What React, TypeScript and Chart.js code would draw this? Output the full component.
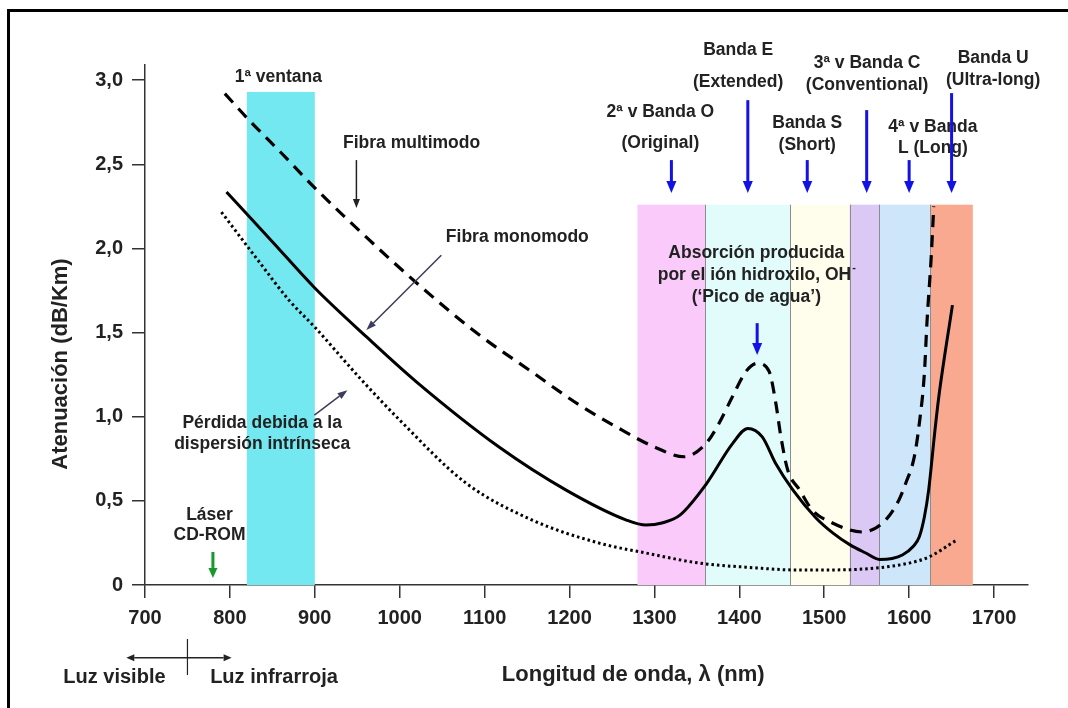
import React, { useEffect, useRef } from "react";
import { Chart, registerables } from "chart.js";

Chart.register(...registerables);

// ---------- data ----------
const xTickValues = [700, 800, 900, 1000, 1100, 1200, 1300, 1400, 1500, 1600, 1700];
const xTickLabels = ["700", "800", "900", "1000", "1100", "1200", "1300", "1400", "1500", "1600", "1700"];
const yTickValues = [0, 0.5, 1, 1.5, 2, 2.5, 3];
const yTickLabels = ["0", "0,5", "1,0", "1,5", "2,0", "2,5", "3,0"];

// Fibra multimodo (dashed)
const multimodeNm = [794, 823, 860, 900, 960, 1021, 1090, 1156, 1210, 1262, 1300, 1335, 1361, 1376, 1392, 1408, 1421, 1435, 1443, 1449, 1457, 1471, 1486, 1509, 1545, 1561, 1573, 1588, 1596, 1606, 1612, 1618, 1621, 1626, 1629];
const multimodeAtt = [2.92, 2.76, 2.57, 2.36, 2.07, 1.79, 1.5, 1.265, 1.075, 0.92, 0.82, 0.762, 0.842, 0.96, 1.12, 1.27, 1.317, 1.27, 1.08, 0.88, 0.683, 0.565, 0.445, 0.37, 0.315, 0.34, 0.39, 0.505, 0.605, 0.76, 0.96, 1.26, 1.56, 1.95, 2.25];

// Fibra monomodo (solid)
const monomodeNm = [796, 850, 900, 961, 1020, 1117, 1196, 1267, 1290, 1310, 1330, 1361, 1392, 1410, 1427, 1443, 1463, 1490, 1510, 1530, 1549, 1565, 1580, 1592, 1605, 1612, 1618, 1623, 1630, 1635, 1651];
const monomodeAtt = [2.335, 2.04, 1.765, 1.474, 1.206, 0.82, 0.564, 0.386, 0.356, 0.37, 0.415, 0.6, 0.84, 0.93, 0.88, 0.72, 0.565, 0.4, 0.31, 0.24, 0.19, 0.152, 0.158, 0.178, 0.23, 0.287, 0.406, 0.564, 0.9, 1.12, 1.663];

// Pérdida por dispersión intrínseca (dotted)
const scatteringNm = [790, 830, 870, 900, 953, 1000, 1078, 1156, 1235, 1290, 1353, 1410, 1470, 1520, 1561, 1600, 1623, 1656];
const scatteringAtt = [2.216, 1.95, 1.69, 1.532, 1.23, 0.98, 0.606, 0.386, 0.249, 0.19, 0.13, 0.105, 0.089, 0.09, 0.101, 0.13, 0.166, 0.267];

// Bands
const bandStartNm = [1280, 1360, 1460, 1530, 1565, 1625];
const bandEndNm = [1360, 1460, 1530, 1565, 1625, 1675];
const bandTopAtt = 2.26;
const firstWindowNm = [820, 900];
const firstWindowTopAtt = 2.93;

// ---------- styles ----------
const bandColors = ["#FACBFA", "#E2FBFB", "#FFFDEC", "#DCC8F5", "#CDE6FA", "#F9A98F"];
const firstWindowColor = "#74E8F0";
const FONT = '"Liberation Sans", Arial, Helvetica, sans-serif';
const TEXT = "#222";
const BLUE = "#1212E6";

// annotations in data coordinates (nm, dB/Km)
const textNotes: { t: string; x: number; y: number; s?: number }[] = [
  { t: "1ª ventana", x: 857, y: 3.02 },
  { t: "Fibra multimodo", x: 1014, y: 2.626 },
  { t: "Fibra monomodo", x: 1138.5, y: 2.067 },
  { t: "Pérdida debida a la", x: 838, y: 0.962 },
  { t: "dispersión intrínseca", x: 838, y: 0.838 },
  { t: "Láser", x: 776, y: 0.416 },
  { t: "CD-ROM", x: 776, y: 0.297 },
  { t: "2ª v Banda O", x: 1307, y: 2.81 },
  { t: "(Original)", x: 1307, y: 2.626 },
  { t: "Banda E", x: 1398.6, y: 3.178 },
  { t: "(Extended)", x: 1398.6, y: 2.988 },
  { t: "Banda S", x: 1480, y: 2.745 },
  { t: "(Short)", x: 1480, y: 2.614 },
  { t: "3ª v Banda C", x: 1550.5, y: 3.101 },
  { t: "(Conventional)", x: 1550.5, y: 2.97 },
  { t: "4ª v Banda", x: 1628, y: 2.721 },
  { t: "L (Long)", x: 1628, y: 2.596 },
  { t: "Banda U", x: 1699, y: 3.131 },
  { t: "(Ultra-long)", x: 1699, y: 3.0 },
  { t: "Absorción producida", x: 1420, y: 1.972 },
  { t: "(‘Pico de agua’)", x: 1420, y: 1.711 },
  { t: "Luz visible", x: 664, y: -0.547, s: 20 },
  { t: "Luz infrarroja", x: 852, y: -0.547, s: 20 },
];

const blueArrows = [
  { x: 1320, y1: 2.525, y2: 2.329 },
  { x: 1410, y1: 2.881, y2: 2.329 },
  { x: 1480, y1: 2.525, y2: 2.329 },
  { x: 1550, y1: 2.822, y2: 2.329 },
  { x: 1600, y1: 2.525, y2: 2.329 },
  { x: 1650, y1: 2.923, y2: 2.329 },
  { x: 1421, y1: 1.556, y2: 1.366 },
];

function toPoints(xs: number[], ys: number[]) {
  return xs.map((x, i) => ({ x, y: ys[i] }));
}

function arrow(ctx: CanvasRenderingContext2D, x1: number, y1: number, x2: number, y2: number, color: string, w: number, hl: number, hw: number) {
  const ang = Math.atan2(y2 - y1, x2 - x1);
  const bx = x2 - Math.cos(ang) * hl;
  const by = y2 - Math.sin(ang) * hl;
  ctx.save();
  ctx.strokeStyle = color;
  ctx.fillStyle = color;
  ctx.lineWidth = w;
  ctx.setLineDash([]);
  ctx.beginPath();
  ctx.moveTo(x1, y1);
  ctx.lineTo(bx, by);
  ctx.stroke();
  ctx.beginPath();
  ctx.moveTo(x2, y2);
  ctx.lineTo(bx + Math.sin(ang) * hw / 2, by - Math.cos(ang) * hw / 2);
  ctx.lineTo(bx - Math.sin(ang) * hw / 2, by + Math.cos(ang) * hw / 2);
  ctx.closePath();
  ctx.fill();
  ctx.restore();
}

const overlayPlugin = {
  id: "overlay",
  beforeDraw(chart: any) {
    const ctx = chart.ctx;
    ctx.save();
    ctx.fillStyle = "#fff";
    ctx.fillRect(0, 0, chart.width, chart.height);
    ctx.restore();
  },
  beforeDatasetsDraw(chart: any) {
    const ctx = chart.ctx as CanvasRenderingContext2D;
    const xs = chart.scales.x;
    const ys = chart.scales.y;
    const y0 = ys.getPixelForValue(0);
    ctx.save();
    {
      const a = xs.getPixelForValue(firstWindowNm[0]);
      const b = xs.getPixelForValue(firstWindowNm[1]);
      const t = ys.getPixelForValue(firstWindowTopAtt);
      ctx.fillStyle = firstWindowColor;
      ctx.fillRect(a, t, b - a, y0 - t);
    }
    const top = ys.getPixelForValue(bandTopAtt);
    bandStartNm.forEach((s, i) => {
      const a = xs.getPixelForValue(s);
      const b = xs.getPixelForValue(bandEndNm[i]);
      ctx.fillStyle = bandColors[i];
      ctx.fillRect(a, top, b - a, y0 - top);
    });
    ctx.strokeStyle = "#8c8c8c";
    ctx.lineWidth = 1;
    bandStartNm.slice(1).forEach((s) => {
      const a = Math.round(xs.getPixelForValue(s)) + 0.5;
      ctx.beginPath();
      ctx.moveTo(a, top);
      ctx.lineTo(a, y0);
      ctx.stroke();
    });
    ctx.restore();
  },
  afterDraw(chart: any) {
    const ctx = chart.ctx as CanvasRenderingContext2D;
    const xs = chart.scales.x;
    const ys = chart.scales.y;
    const px = (v: number) => xs.getPixelForValue(v);
    const py = (v: number) => ys.getPixelForValue(v);
    ctx.save();
    // frame
    ctx.strokeStyle = "#000";
    ctx.lineWidth = 3;
    ctx.beginPath();
    ctx.moveTo(8.5, chart.height + 2);
    ctx.lineTo(8.5, 10.5);
    ctx.lineTo(chart.width + 2, 10.5);
    ctx.stroke();

    ctx.fillStyle = TEXT;
    ctx.textAlign = "center";
    ctx.textBaseline = "middle";
    textNotes.forEach((n) => {
      ctx.font = `bold ${n.s ?? 17.5}px ${FONT}`;
      ctx.fillText(n.t, px(n.x), py(n.y));
    });
    // OH line with superscript minus
    {
      ctx.font = `bold 17.5px ${FONT}`;
      const main = "por el ión hidroxilo, OH";
      const w = ctx.measureText(main).width;
      ctx.font = `bold 11px ${FONT}`;
      const sw = ctx.measureText("-").width;
      const start = px(1420) - (w + sw) / 2;
      const cy = py(1.842);
      ctx.textAlign = "left";
      ctx.font = `bold 17.5px ${FONT}`;
      ctx.fillText(main, start, cy);
      ctx.font = `bold 11px ${FONT}`;
      ctx.fillText("-", start + w + 1, cy - 7);
      ctx.textAlign = "center";
    }
    // titles
    ctx.font = `bold 22px ${FONT}`;
    ctx.fillText("Longitud de onda, λ (nm)", px(1275), py(-0.535));
    ctx.save();
    ctx.translate(px(600.5), py(1.313));
    ctx.rotate(-Math.PI / 2);
    ctx.fillText("Atenuación (dB/Km)", 0, 0);
    ctx.restore();

    // thin arrows
    arrow(ctx, px(949), py(2.525), px(949), py(2.24), "#222", 1.5, 9, 7);
    arrow(ctx, px(1049), py(1.96), px(960.7), py(1.515), "#3c3c5c", 1.5, 10, 7);
    arrow(ctx, px(899.5), py(1.01), px(938.4), py(1.158), "#3c3c5c", 1.5, 10, 7);
    // green laser arrow
    arrow(ctx, px(780), py(0.196), px(780), py(0.042), "#139a2a", 3, 10, 9);
    // blue arrows
    blueArrows.forEach((a) => arrow(ctx, px(a.x), py(a.y1), px(a.x), py(a.y2), BLUE, 3, 12, 10));
    // visible / infrared marker
    ctx.strokeStyle = "#222";
    ctx.lineWidth = 1.2;
    ctx.beginPath();
    ctx.moveTo(px(750), py(-0.321));
    ctx.lineTo(px(750), py(-0.535));
    ctx.stroke();
    arrow(ctx, px(750), py(-0.432), px(678), py(-0.432), "#222", 1.5, 8, 7);
    arrow(ctx, px(750), py(-0.432), px(802), py(-0.432), "#222", 1.5, 8, 7);
    ctx.restore();
  },
};

export default function App() {
  const ref = useRef<HTMLCanvasElement | null>(null);
  useEffect(() => {
    if (!ref.current) return;
    const chart = new Chart(ref.current, {
      type: "scatter",
      data: {
        datasets: [
          {
            label: "Fibra multimodo",
            data: toPoints(multimodeNm, multimodeAtt),
            showLine: true,
            borderColor: "#000",
            borderWidth: 3.2,
            borderDash: [12, 8],
            pointRadius: 0,
            cubicInterpolationMode: "monotone",
          },
          {
            label: "Fibra monomodo",
            data: toPoints(monomodeNm, monomodeAtt),
            showLine: true,
            borderColor: "#000",
            borderWidth: 3,
            pointRadius: 0,
            cubicInterpolationMode: "monotone",
          },
          {
            label: "Pérdida debida a la dispersión intrínseca",
            data: toPoints(scatteringNm, scatteringAtt),
            showLine: true,
            borderColor: "#000",
            borderWidth: 3,
            borderDash: [2.5, 3],
            pointRadius: 0,
            cubicInterpolationMode: "monotone",
          },
        ],
      },
      options: {
        responsive: false,
        animation: false,
        devicePixelRatio: 1,
        layout: { padding: { left: 0, top: 65, right: 40, bottom: 0 } },
        plugins: { legend: { display: false }, tooltip: { enabled: false } },
        scales: {
          x: {
            type: "linear",
            min: 700,
            max: 1740,
            afterBuildTicks: (scale: any) => {
              scale.ticks = xTickValues.map((v) => ({ value: v }));
            },
            afterFit: (scale: any) => {
              scale.height = 123;
            },
            grid: { drawOnChartArea: false, drawTicks: true, tickLength: 13, color: "#333", lineWidth: 1.5 },
            border: { display: true, color: "#333", width: 1.5 },
            ticks: {
              color: TEXT,
              padding: 8,
              font: { family: FONT, size: 20, weight: "bold" },
              maxRotation: 0,
              autoSkip: false,
              callback: (v: any) => {
                const i = xTickValues.indexOf(Number(v));
                return i >= 0 ? xTickLabels[i] : "";
              },
            },
          },
          y: {
            type: "linear",
            min: 0,
            max: 3.09,
            afterBuildTicks: (scale: any) => {
              scale.ticks = yTickValues.map((v) => ({ value: v }));
            },
            afterFit: (scale: any) => {
              scale.width = 145;
            },
            grid: { drawOnChartArea: false, drawTicks: true, tickLength: 13, color: "#333", lineWidth: 1.5 },
            border: { display: true, color: "#333", width: 1.5 },
            ticks: {
              color: TEXT,
              padding: 9,
              font: { family: FONT, size: 20, weight: "bold" },
              autoSkip: false,
              callback: (v: any) => {
                const i = yTickValues.indexOf(Number(v));
                return i >= 0 ? yTickLabels[i] : "";
              },
            },
          },
        },
      },
      plugins: [overlayPlugin],
    } as any);
    return () => chart.destroy();
  }, []);
  return (
    <div style={{ position: "fixed", left: 0, top: 0, width: 1068, height: 708, background: "#fff" }}>
      <canvas ref={ref} width={1068} height={708} style={{ width: 1068, height: 708, display: "block" }} />
    </div>
  );
}
